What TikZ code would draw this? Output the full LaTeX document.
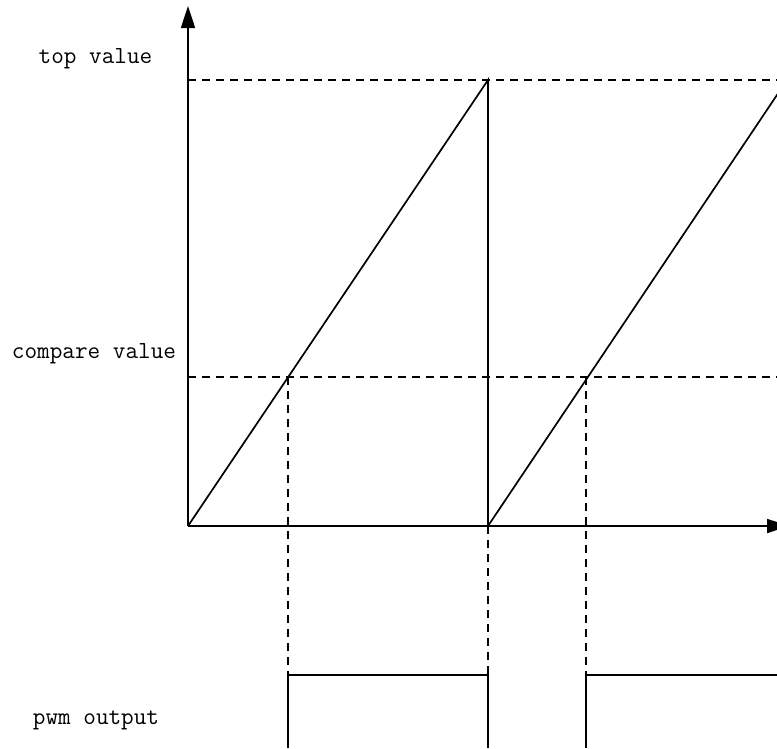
\documentclass[tikz,border=0pt]{standalone}
\usepackage{fontspec}
\usetikzlibrary{arrows.meta}

\begin{document}
\begin{tikzpicture}[x=1pt, y=-1pt, line cap=butt, line join=miter,
  axis/.style={line width=1.7pt, -{Triangle[length=22pt,width=14pt]}},
  wave/.style={line width=1.7pt},
  guide/.style={line width=1.5pt, dash pattern=on 8pt off 6pt},
  lbl/.style={font=\ttfamily\fontsize{24.5}{28}\selectfont, inner sep=0pt, anchor=base}]

% ----------------- Frame (image size, clips the cut-off ends) -----------------
\useasboundingbox (0,0) rectangle (777,748);
\clip (0,0) rectangle (777,748);

% ----------------- Parameters -----------------
\def\ytop{80}      % y of the top value
\def\ycmp{377}     % y of the compare value
\def\yhi{675}      % y of the pwm high level

% Key points
\coordinate (O)    at (188,526);
\coordinate (Ytip) at (188,6);
\coordinate (Xtip) at (789,526);

\coordinate (T1)   at (488,\ytop);       % peak of first ramp
\coordinate (Z1)   at (488,526);         % reset point
\coordinate (T2)   at (787,\ytop);       % peak of second ramp (off frame)

\coordinate (C1)   at (288,\ycmp);       % compare crossings
\coordinate (C2)   at (586,\ycmp);

\coordinate (P1)   at (288,\yhi);        % pwm edges
\coordinate (P2)   at (488,\yhi);
\coordinate (P3)   at (586,\yhi);
\coordinate (P1b)  at (288,748);
\coordinate (P2b)  at (488,748);
\coordinate (P3b)  at (586,748);
\coordinate (P4)   at (777,\yhi);

% ----------------- Axes -----------------
\draw[axis] (O) -- (Ytip);
\draw[axis] (O) -- (Xtip);

% ----------------- Level lines -----------------
\draw[guide] (188,\ytop) -- (777,\ytop);
\draw[guide] (188,\ycmp) -- (777,\ycmp);

% ----------------- Sawtooth -----------------
\draw[wave] (O) -- (T1) -- (Z1) -- (T2);

% ----------------- Projections down to the pwm -----------------
\draw[guide] (C1) -- (P1);
\draw[guide] (Z1) -- (P2);
\draw[guide] (C2) -- (P3);

% ----------------- Pwm output -----------------
\draw[wave] (P1b) -- (P1) -- (P2) -- (P2b);
\draw[wave] (P3b) -- (P3) -- (P4);

% ----------------- Labels -----------------
\node[lbl] (topval) at (95.5,63) {top value};
\node[lbl] (cmpval) at (94,358)  {compare value};
\node[lbl] (pwmout) at (96,724)  {pwm output};

\end{tikzpicture}
\end{document}
